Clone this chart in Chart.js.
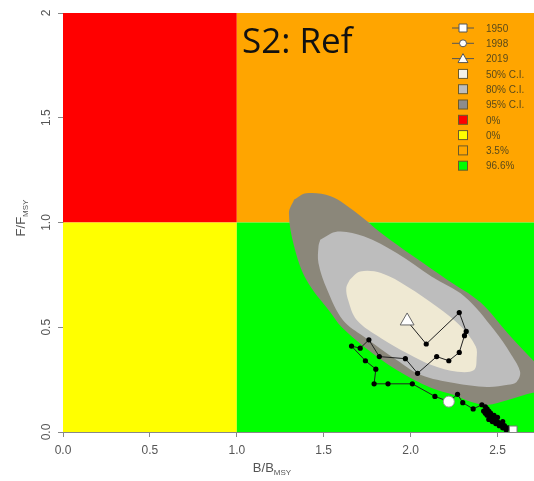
<!DOCTYPE html>
<html>
<head>
<meta charset="utf-8">
<script src="https://cdn.jsdelivr.net/npm/chart.js@4.4.1/dist/chart.umd.min.js"></script>
<style>
  html, body { margin: 0; padding: 0; background: #fff; }
  #wrap { width: 534px; height: 481px; }
</style>
</head>
<body>
<div id="wrap"><canvas id="kobe" width="534" height="481"></canvas></div>
<script>
// ---- data ----
const xMin = 0, xMax = 2.71;
const yMin = 0, yMax = 2;
const refB = 1, refF = 1;
const yTickLabels = ['0.0', '0.5', '1.0', '1.5', '2'];

// stock trajectory B/Bmsy and F/Fmsy, 1950 -> 2019
const trajB = [2.59, 2.56, 2.55, 2.54, 2.53, 2.52, 2.53, 2.51, 2.50, 2.49, 2.50, 2.48, 2.47, 2.48,
  2.46, 2.45, 2.46, 2.44, 2.45, 2.43, 2.44, 2.42, 2.43, 2.41, 2.36, 2.30, 2.27, 2.22,
  2.14, 2.01, 1.87, 1.79, 1.80, 1.74, 1.66, 1.71, 1.76, 1.82, 1.97, 2.04, 2.15, 2.22,
  2.28, 2.31, 2.32, 2.28, 2.09, 1.98];
const trajF = [0.01, 0.02, 0.01, 0.03, 0.02, 0.04, 0.05, 0.03, 0.05, 0.04, 0.07, 0.06, 0.05, 0.08,
  0.07, 0.06, 0.09, 0.08, 0.10, 0.09, 0.11, 0.10, 0.12, 0.13, 0.11, 0.14, 0.18, 0.145,
  0.17, 0.23, 0.23, 0.23, 0.30, 0.34, 0.41, 0.40, 0.44, 0.36, 0.35, 0.28, 0.36, 0.34,
  0.38, 0.46, 0.48, 0.57, 0.42, 0.53];
const markYears = ['1950', '1998', '2019'];
const markB = [2.59, 2.22, 1.98];
const markF = [0.01, 0.145, 0.53];

// confidence regions of the final year
const ci95B = [1.33, 1.40, 1.54, 1.69, 1.83, 2.02, 2.21, 2.40, 2.56, 2.72, 2.80, 2.80, 2.72, 2.56, 2.44,
  2.35, 2.25, 2.12, 1.92, 1.73, 1.60, 1.54, 1.40, 1.33, 1.30, 1.33];
const ci95F = [1.11, 1.14, 1.125, 1.045, 0.95, 0.836, 0.727, 0.62, 0.47, 0.33, 0.28, 0.19, 0.19, 0.153, 0.129,
  0.143, 0.177, 0.21, 0.296, 0.408, 0.503, 0.569, 0.727, 0.886, 1.045, 1.11];
const ci80B = [1.48, 1.58, 1.73, 1.92, 2.12, 2.31, 2.48, 2.58, 2.63, 2.61, 2.56, 2.44, 2.25, 2.06,
  1.92, 1.73, 1.61, 1.52, 1.47, 1.47, 1.48];
const ci80F = [0.918, 0.957, 0.934, 0.854, 0.742, 0.647, 0.488, 0.368, 0.287, 0.239, 0.225, 0.215, 0.234, 0.272,
  0.344, 0.456, 0.535, 0.679, 0.806, 0.886, 0.918];
const ci50B = [1.65, 1.71, 1.83, 1.98, 2.15, 2.29, 2.375, 2.38, 2.365, 2.27, 2.12, 1.98, 1.83, 1.69,
  1.64, 1.63, 1.65];
const ci50F = [0.727, 0.766, 0.759, 0.695, 0.599, 0.503, 0.408, 0.354, 0.296, 0.288, 0.32, 0.376, 0.448, 0.535,
  0.631, 0.688, 0.727];

const legendLabels = ['1950', '1998', '2019', '50% C.I.', '80% C.I.', '95% C.I.', '0%', '0%', '3.5%', '96.6%'];

// ---- styling ----
const quadColors = { red: '#FF0000', yellow: '#FFFF00', orange: '#FFA500', green: '#00FF00' };
const ciColors = ['#EFE9D3', '#BDBDBD', '#8B877A'];
const legendFills = ['#FFFFFF', '#FFFFFF', '#FFFFFF', '#F4F1E6', '#BDBDBD', '#8C8C8C',
  quadColors.red, quadColors.yellow, quadColors.orange, quadColors.green];
const legendShapes = ['rect', 'circle', 'triangle', 'box', 'box', 'box', 'box', 'box', 'box', 'box'];

const pts = (xs, ys) => xs.map((x, i) => ({ x: x, y: ys[i] }));

const quadrantPlugin = {
  id: 'quadrants',
  beforeDatasetsDraw(chart) {
    const { ctx, chartArea: a, scales: { x, y } } = chart;
    const px = x.getPixelForValue(refB);
    const py = y.getPixelForValue(refF);
    ctx.save();
    ctx.fillStyle = quadColors.red;    ctx.fillRect(a.left, a.top, px - a.left, py - a.top);
    ctx.fillStyle = quadColors.orange; ctx.fillRect(px, a.top, a.right - px, py - a.top);
    ctx.fillStyle = quadColors.yellow; ctx.fillRect(a.left, py, px - a.left, a.bottom - py);
    ctx.fillStyle = quadColors.green;  ctx.fillRect(px, py, a.right - px, a.bottom - py);
    ctx.restore();
  }
};

const textPlugin = {
  id: 'texts',
  afterDraw(chart) {
    const { ctx, scales: { x, y } } = chart;
    ctx.save();
    // y tick labels, rotated like R
    ctx.fillStyle = '#555';
    ctx.font = '12px "Liberation Sans", Arial, sans-serif';
    ctx.textAlign = 'center';
    ctx.textBaseline = 'middle';
    y.ticks.forEach((t, i) => {
      ctx.save();
      ctx.translate(47, y.getPixelForValue(t.value));
      ctx.rotate(-Math.PI / 2);
      ctx.fillText(yTickLabels[i], 0, 0);
      ctx.restore();
    });

    // axis titles with subscripts
    const sub = (main, s, fs) => {
      ctx.font = fs + 'px "Liberation Sans", Arial, sans-serif';
      const w1 = ctx.measureText(main).width;
      ctx.font = Math.round(fs * 0.62) + 'px "Liberation Sans", Arial, sans-serif';
      const w2 = ctx.measureText(s).width;
      return { w1, w2, total: w1 + w2 };
    };
    ctx.fillStyle = '#555';
    ctx.textAlign = 'left';
    ctx.textBaseline = 'alphabetic';
    let m = sub('B/B', 'MSY', 13);
    let x0 = 272 - m.total / 2;
    ctx.font = '13px "Liberation Sans", Arial, sans-serif';
    ctx.fillText('B/B', x0, 472);
    ctx.font = '8px "Liberation Sans", Arial, sans-serif';
    ctx.fillText('MSY', x0 + m.w1, 475);

    ctx.save();
    ctx.translate(25, 218);
    ctx.rotate(-Math.PI / 2);
    m = sub('F/F', 'MSY', 13);
    x0 = -m.total / 2;
    ctx.font = '13px "Liberation Sans", Arial, sans-serif';
    ctx.fillText('F/F', x0, 0);
    ctx.font = '8px "Liberation Sans", Arial, sans-serif';
    ctx.fillText('MSY', x0 + m.w1, 3);
    ctx.restore();

    // scenario title
    ctx.fillStyle = '#111';
    ctx.font = '35px "Open Sans", Lato, sans-serif';
    ctx.fillText('S2: Ref', 242, 53);

    // legend
    const lx = 463, tx = 486, ly0 = 28, step = 15.3;
    ctx.font = '10px "Liberation Sans", Arial, sans-serif';
    ctx.textBaseline = 'middle';
    legendLabels.forEach((lab, i) => {
      const cy = ly0 + i * step;
      const shape = legendShapes[i];
      ctx.strokeStyle = '#555';
      ctx.lineWidth = 1;
      if (shape !== 'box') {
        ctx.beginPath();
        ctx.moveTo(lx - 11, cy); ctx.lineTo(lx + 11, cy);
        ctx.stroke();
        ctx.fillStyle = legendFills[i];
        ctx.beginPath();
        if (shape === 'rect') ctx.rect(lx - 4, cy - 4, 8, 8);
        else if (shape === 'circle') ctx.arc(lx, cy, 3.5, 0, Math.PI * 2);
        else { ctx.moveTo(lx, cy - 5); ctx.lineTo(lx + 5, cy + 4); ctx.lineTo(lx - 5, cy + 4); ctx.closePath(); }
        ctx.fill(); ctx.stroke();
      } else {
        ctx.fillStyle = legendFills[i];
        ctx.fillRect(lx - 4.5, cy - 4.5, 9, 9);
        ctx.strokeStyle = '#6b5a2a';
        ctx.strokeRect(lx - 4.5, cy - 4.5, 9, 9);
      }
      ctx.fillStyle = '#5a4a1a';
      ctx.fillText(lab, tx, cy + 1);
    });
    ctx.restore();
  }
};

const region = (xs, ys, color, ord) => ({
  data: pts(xs, ys),
  showLine: true,
  tension: 0.35,
  borderWidth: 0,
  borderColor: color,
  backgroundColor: color,
  fill: 'shape',
  pointRadius: 0,
  order: ord
});

new Chart(document.getElementById('kobe'), {
  type: 'scatter',
  data: {
    datasets: [
      region(ci95B, ci95F, ciColors[2], 6),
      region(ci80B, ci80F, ciColors[1], 5),
      region(ci50B, ci50F, ciColors[0], 4),
      {
        data: pts(trajB, trajF),
        showLine: true,
        borderColor: '#222',
        borderWidth: 1,
        pointRadius: 2.6,
        pointBackgroundColor: '#000',
        pointBorderColor: '#000',
        pointBorderWidth: 0,
        order: 3
      },
      {
        label: markYears[0],
        data: [{ x: markB[0], y: markF[0] }],
        pointStyle: 'rect', pointRadius: 5.5,
        pointBackgroundColor: '#fff', pointBorderColor: '#777', pointBorderWidth: 1,
        order: 2
      },
      {
        label: markYears[1],
        data: [{ x: markB[1], y: markF[1] }],
        pointStyle: 'circle', pointRadius: 5.5,
        pointBackgroundColor: '#fff', pointBorderColor: '#999', pointBorderWidth: 1,
        order: 1
      },
      {
        label: markYears[2],
        data: [{ x: markB[2], y: markF[2] }],
        pointStyle: 'triangle', pointRadius: 8,
        pointBackgroundColor: '#fff', pointBorderColor: '#666', pointBorderWidth: 1,
        order: 0
      }
    ]
  },
  options: {
    responsive: false,
    animation: false,
    devicePixelRatio: 1,
    layout: { autoPadding: false, padding: { top: 13, right: 0, left: 0, bottom: 0 } },
    plugins: { legend: { display: false }, tooltip: { enabled: false } },
    scales: {
      x: {
        min: xMin, max: xMax,
        ticks: {
          stepSize: 0.5, includeBounds: false,
          color: '#555', padding: 6,
          font: { family: '"Liberation Sans", Arial, sans-serif', size: 12 },
          callback: v => v.toFixed(1),
          maxRotation: 0
        },
        grid: { drawOnChartArea: false, drawTicks: true, tickLength: 5, color: '#888' },
        border: { display: true, color: '#888' },
        afterFit: s => { s.height = 49; s.paddingLeft = 0; s.paddingRight = 0; }
      },
      y: {
        min: yMin, max: yMax,
        ticks: { stepSize: 0.5, display: false },
        grid: { drawOnChartArea: false, drawTicks: true, tickLength: 5, color: '#888' },
        border: { display: true, color: '#888' },
        afterFit: s => { s.width = 63; }
      }
    }
  },
  plugins: [quadrantPlugin, textPlugin]
});
</script>
</body>
</html>
